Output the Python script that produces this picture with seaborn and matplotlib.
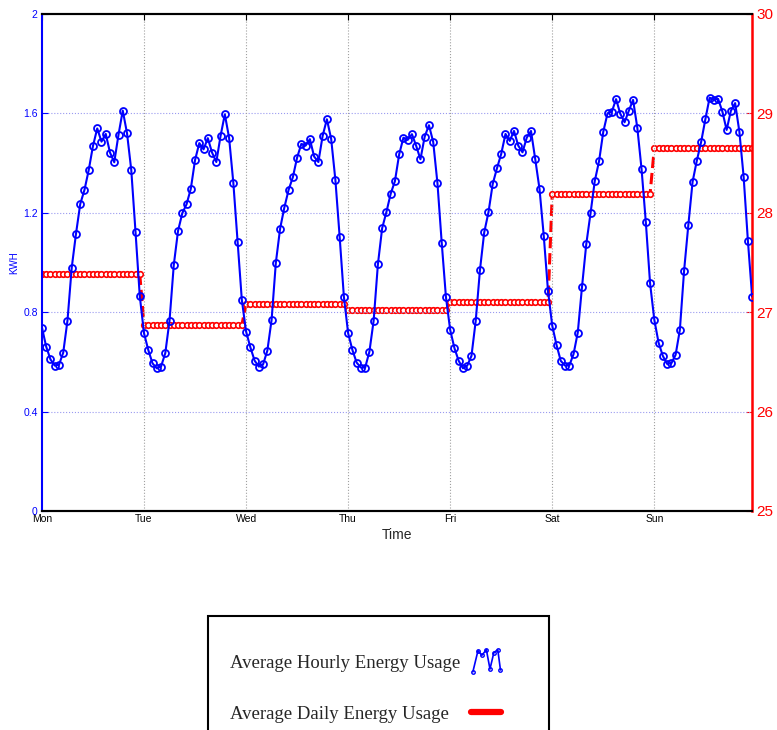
import numpy as np
import pandas as pd
import matplotlib
matplotlib.use('Agg')
import matplotlib.pyplot as plt
import seaborn as sns
from matplotlib.lines import Line2D
from matplotlib.patches import Rectangle
from matplotlib.legend_handler import HandlerBase

sns.set_style('white')
plt.rcParams['font.family'] = ['Liberation Sans', 'DejaVu Sans']

days = ['Mon', 'Tue', 'Wed', 'Thu', 'Fri', 'Sat', 'Sun']

# hourly averages (kWh), 24 values per day
mon = [0.738, 0.661, 0.610, 0.585, 0.588, 0.637, 0.766, 0.979, 1.115, 1.235, 1.292, 1.372,
       1.469, 1.539, 1.486, 1.517, 1.442, 1.403, 1.514, 1.611, 1.520, 1.372, 1.123, 0.865]
tue = [0.715, 0.648, 0.594, 0.574, 0.581, 0.635, 0.766, 0.990, 1.127, 1.198, 1.234, 1.296,
       1.412, 1.480, 1.455, 1.500, 1.442, 1.404, 1.509, 1.596, 1.502, 1.321, 1.084, 0.849]
wed = [0.722, 0.659, 0.605, 0.581, 0.590, 0.645, 0.769, 0.999, 1.136, 1.221, 1.292, 1.343,
       1.422, 1.477, 1.470, 1.496, 1.426, 1.404, 1.509, 1.576, 1.498, 1.332, 1.104, 0.862]
thu = [0.715, 0.648, 0.597, 0.577, 0.577, 0.641, 0.766, 0.993, 1.138, 1.203, 1.276, 1.327,
       1.435, 1.502, 1.493, 1.516, 1.469, 1.415, 1.506, 1.552, 1.485, 1.319, 1.080, 0.860]
fri = [0.728, 0.655, 0.604, 0.574, 0.585, 0.624, 0.765, 0.970, 1.121, 1.202, 1.316, 1.379,
       1.437, 1.517, 1.489, 1.529, 1.470, 1.443, 1.502, 1.529, 1.415, 1.296, 1.107, 0.885]
sat = [0.745, 0.668, 0.604, 0.585, 0.585, 0.631, 0.718, 0.903, 1.074, 1.198, 1.328, 1.407,
       1.526, 1.600, 1.606, 1.657, 1.598, 1.564, 1.610, 1.654, 1.542, 1.375, 1.162, 0.916]
sun = [0.769, 0.677, 0.624, 0.592, 0.594, 0.628, 0.728, 0.967, 1.151, 1.325, 1.410, 1.484,
       1.576, 1.663, 1.654, 1.658, 1.607, 1.533, 1.610, 1.641, 1.526, 1.345, 1.088, 0.862]

# daily totals (kWh)
daily = [27.38, 26.87, 27.08, 27.02, 27.10, 28.19, 28.65]

hourly = mon + tue + wed + thu + fri + sat + sun
hours = np.arange(len(hourly))
df = pd.DataFrame({'hour': hours,
                   'hourly': hourly,
                   'daily': np.repeat(daily, 24)})

BLUE = '#0000ff'
RED = '#ff0000'

fig = plt.figure(figsize=(7.77, 7.30), dpi=100)
ax = fig.add_axes([0.054, 0.300, 0.914, 0.681])
ax2 = ax.twinx()

sns.lineplot(data=df, x='hour', y='daily', ax=ax2, color=RED, lw=2.2,
             linestyle='--', marker='o', markersize=4, mfc='white', mec=RED, mew=1.2)
sns.lineplot(data=df, x='hour', y='hourly', ax=ax, color=BLUE, lw=1.5,
             marker='o', markersize=5, mfc='none', mec=BLUE, mew=1.3)
ax.set_zorder(ax2.get_zorder() + 1)
ax.patch.set_visible(False)

ax.set_xlim(0, 167)
ax.set_ylim(0, 2)
ax2.set_ylim(25, 30)

ax.set_xticks(np.arange(0, 168, 24))
ax.set_xticklabels(days, fontsize=7.5)
ax.set_yticks([0, 0.4, 0.8, 1.2, 1.6, 2])
ax.set_yticklabels(['0', '0.4', '0.8', '1.2', '1.6', '2'], fontsize=7.5, color=BLUE)
ax2.set_yticks([25, 26, 27, 28, 29, 30])
ax2.set_yticklabels(['25', '26', '27', '28', '29', '30'], fontsize=11, color=RED)

ax.set_xlabel('Time', fontsize=10, labelpad=3)
ax.set_ylabel('KWH', fontsize=7, color=BLUE, labelpad=3)
ax2.set_ylabel('KWH', fontsize=7, color=RED, labelpad=14)

ax.tick_params(axis='x', direction='in', length=4, pad=2, top=True, colors='black')
ax.tick_params(axis='y', direction='in', length=4, pad=3, colors=BLUE)
ax2.tick_params(axis='y', direction='in', length=4, pad=3, colors=RED)

# grid lines
for v in [0.4, 0.8, 1.2, 1.6]:
    ax.axhline(v, color='#9a9af0', linestyle=':', lw=0.8, zorder=0)
for d in np.arange(24, 168, 24):
    ax.axvline(d, color='#a0a0a0', linestyle=':', lw=0.8, zorder=0)

for a in (ax, ax2):
    for s in a.spines.values():
        s.set_linewidth(1.5)
        s.set_color('black')
ax.spines['left'].set_color(BLUE)
ax2.spines['left'].set_visible(False)
ax2.spines['right'].set_color(RED)
ax2.spines['right'].set_linewidth(1.8)
ax.spines['right'].set_visible(False)


class ZigZagHandler(HandlerBase):
    def create_artists(self, legend, orig_handle, xd, yd, width, height, fontsize, trans):
        xs = np.array([0.05, 0.22, 0.35, 0.5, 0.62, 0.75, 0.88, 0.97]) * width - xd
        ys = (np.array([-0.1, 1.05, 0.8, 1.1, 0.05, 0.95, 1.1, 0.0]) * height * 1.4
              - yd - 0.15 * height)
        ln = Line2D(xs, ys, color=BLUE, lw=1.2, marker='o', markersize=2.5,
                    mfc='none', mec=BLUE, mew=1.0, transform=trans)
        return [ln]


h_blue = Line2D([], [], color=BLUE)
h_red = Line2D([], [], color=RED, lw=4.5, linestyle='-')

fig.patches.append(Rectangle((208 / 777, -0.05), (549 - 208) / 777, 1 - 616 / 730 + 0.05,
                             transform=fig.transFigure, fill=False, edgecolor='black', lw=1.5))
leg = fig.legend([h_blue, h_red], ['Average Hourly Energy Usage', 'Average Daily Energy Usage'],
                 loc='upper left', bbox_to_anchor=(213 / 777, 1 - 638 / 730),
                 frameon=False, markerfirst=False, handlelength=1.6, handletextpad=0.6,
                 labelspacing=1.8, prop={'family': 'Liberation Serif', 'size': 13.5},
                 handler_map={h_blue: ZigZagHandler()})

# left-align the labels and keep the handles in one column
renderer = fig.canvas.get_renderer()
col = leg._legend_handle_box.get_children()[0]
col.align = 'left'
widths = [t.get_window_extent(renderer).width for t in leg.get_texts()]
for row, w in zip(col.get_children(), widths):
    row.sep = row.sep + (max(widths) - w) * 72 / fig.dpi

fig.savefig('out.png', dpi=100)
